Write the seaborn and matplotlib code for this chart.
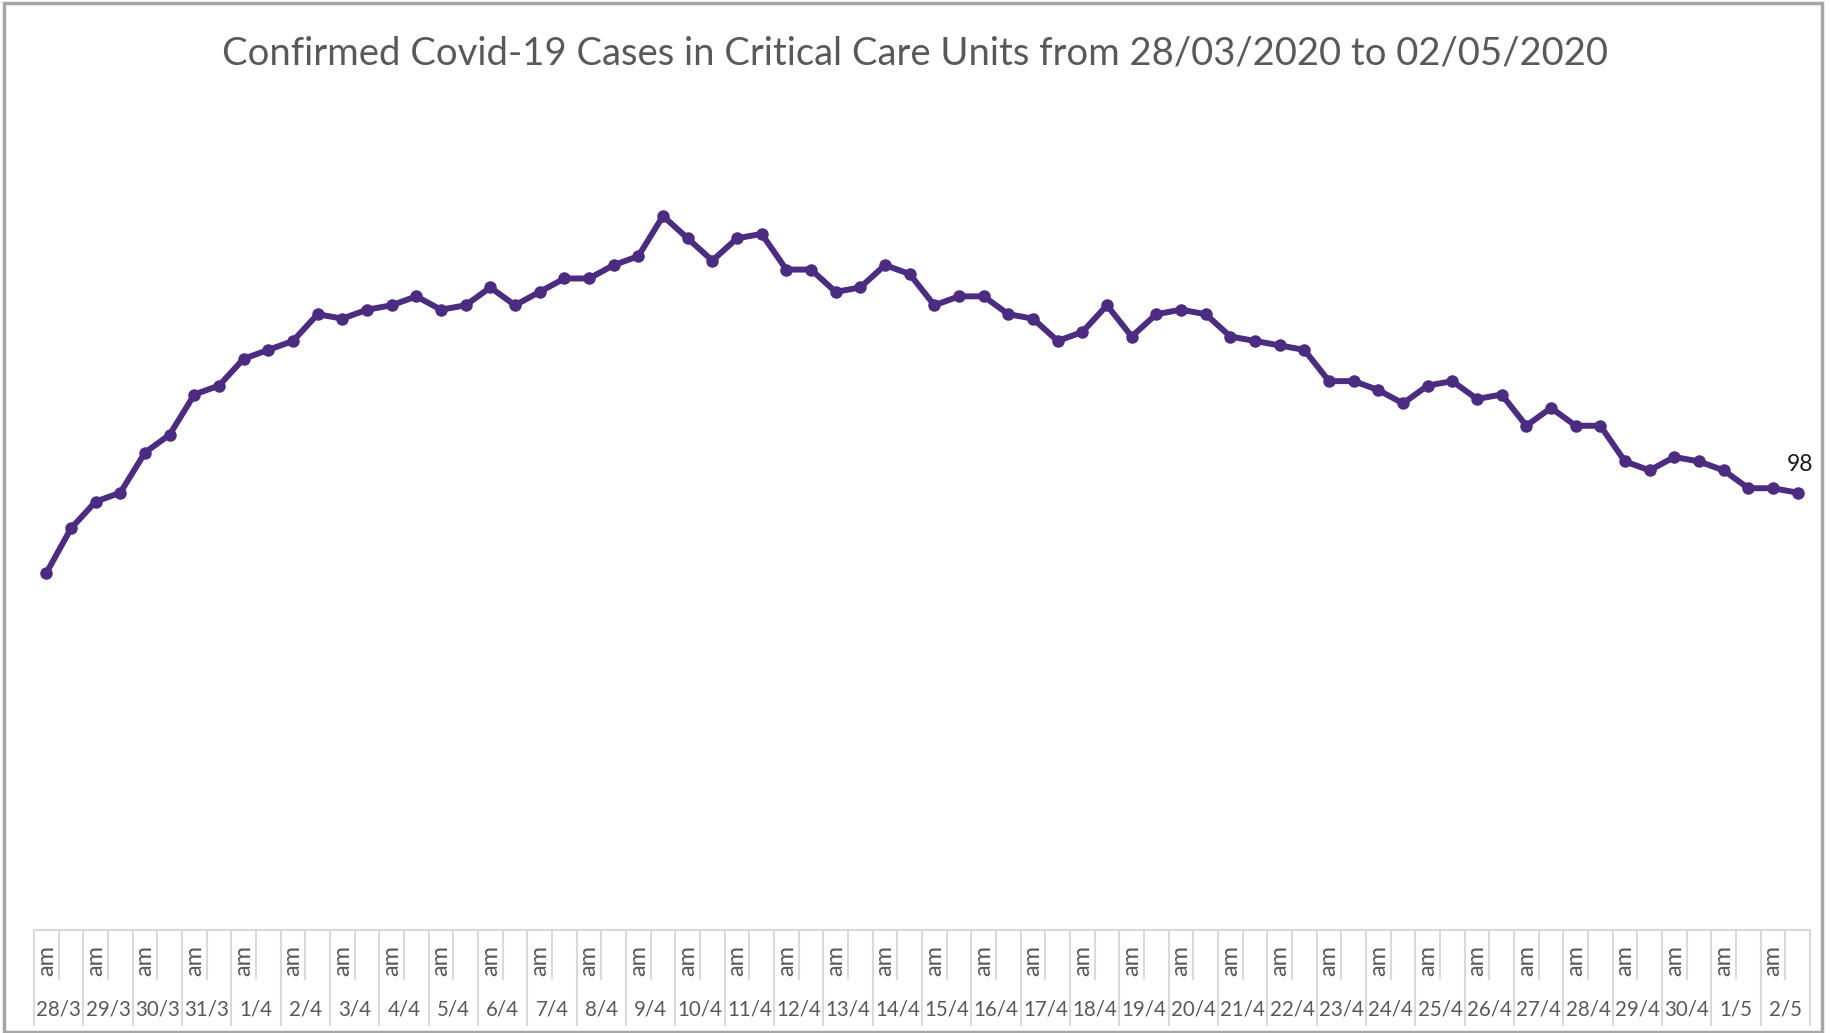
import matplotlib
matplotlib.use("Agg")
import matplotlib.pyplot as plt
import matplotlib.transforms as mtransforms
import seaborn as sns
import numpy as np
import pandas as pd

# day labels, each day has an "am" and an unlabelled second reading
days = ["28/3", "29/3", "30/3", "31/3", "1/4", "2/4", "3/4", "4/4", "5/4", "6/4",
        "7/4", "8/4", "9/4", "10/4", "11/4", "12/4", "13/4", "14/4", "15/4", "16/4",
        "17/4", "18/4", "19/4", "20/4", "21/4", "22/4", "23/4", "24/4", "25/4", "26/4",
        "27/4", "28/4", "29/4", "30/4", "1/5", "2/5"]
slots = ["am", ""]

# critical care cases, two readings per day
cases = [80, 90, 96, 98, 107, 111, 120, 122, 128, 130,
         132, 138, 137, 139, 140, 142, 139, 140, 144, 140,
         143, 146, 146, 149, 151, 160, 155, 150, 155, 156,
         148, 148, 143, 144, 149, 147, 140, 142, 142, 138,
         137, 132, 134, 140, 133, 138, 139, 138, 133, 132,
         131, 130, 123, 123, 121, 118, 122, 123, 119, 120,
         113, 117, 113, 113, 105, 103, 106, 105, 103, 99,
         99, 98]

df = pd.DataFrame({
    "day": np.repeat(days, 2),
    "slot": slots * len(days),
    "cases": cases,
})
df["pos"] = np.arange(len(df))

W, H = 1831, 1033
sns.set_theme(style="white")
plt.rcParams["font.family"] = ["Lato", "DejaVu Sans"]

fig = plt.figure(figsize=(W / 100, H / 100), dpi=100)
ax = fig.add_axes([34 / W, (H - 930) / H, (1810 - 34) / W, 830 / H])

purple = "#4B2C80"
sns.lineplot(data=df, x="pos", y="cases", ax=ax, color=purple, linewidth=4.3,
             marker="o", markersize=9, markeredgewidth=0, markeredgecolor=purple)

ax.set_xlim(-0.5, len(df) - 0.5)
ax.set_ylim(0, 186)
ax.set_xticks([])
ax.set_yticks([])
ax.set_xlabel("")
ax.set_ylabel("")
for s in ax.spines.values():
    s.set_visible(False)

# last value label
last = df.iloc[-1]
ax.annotate(f"{last['cases']}", (last["pos"], last["cases"]), xytext=(2, 13),
            textcoords="offset points", ha="center", va="bottom",
            fontsize=16.5, color="#1a1a1a")

# multi level category axis drawn below the plot
grid = "#d9d9d9"
txt = "#595959"
tr = mtransforms.blended_transform_factory(ax.transData, fig.transFigure)
y_axis = (H - 930) / H
y_short = (H - 979) / H
y_long = (H - 1025) / H
ax.plot([-0.5, len(df) - 0.5], [y_axis, y_axis], transform=tr, color=grid,
        lw=1.5, clip_on=False)
for d in range(len(days) + 1):
    x = 2 * d - 0.5
    ax.plot([x, x], [y_axis, y_long], transform=tr, color=grid, lw=1.5, clip_on=False)
for d in range(len(days)):
    x = 2 * d + 0.5
    ax.plot([x, x], [y_axis, y_short], transform=tr, color=grid, lw=1.5, clip_on=False)
for i, row in df.iterrows():
    if row["slot"]:
        ax.text(row["pos"], (H - 961) / H, row["slot"], transform=tr, rotation=90,
                ha="center", va="center", fontsize=17, color=txt)
for d, lab in enumerate(days):
    ax.text(2 * d + 0.5, (H - 1010) / H, lab, transform=tr, ha="center",
            va="center", fontsize=14.8, color=txt)

fig.text(0.5, (H - 53) / H,
         "Confirmed Covid-19 Cases in Critical Care Units from 28/03/2020 to 02/05/2020",
         ha="center", va="center", fontsize=27.5, color=txt)

# chart frame
frame = plt.Rectangle((4 / W, 1 / H), (1822 - 4) / W, (H - 4) / H, transform=fig.transFigure,
                      fill=False, edgecolor="#a6a6a6", lw=2.5)
fig.patches.append(frame)

fig.savefig("out.png", dpi=100)
